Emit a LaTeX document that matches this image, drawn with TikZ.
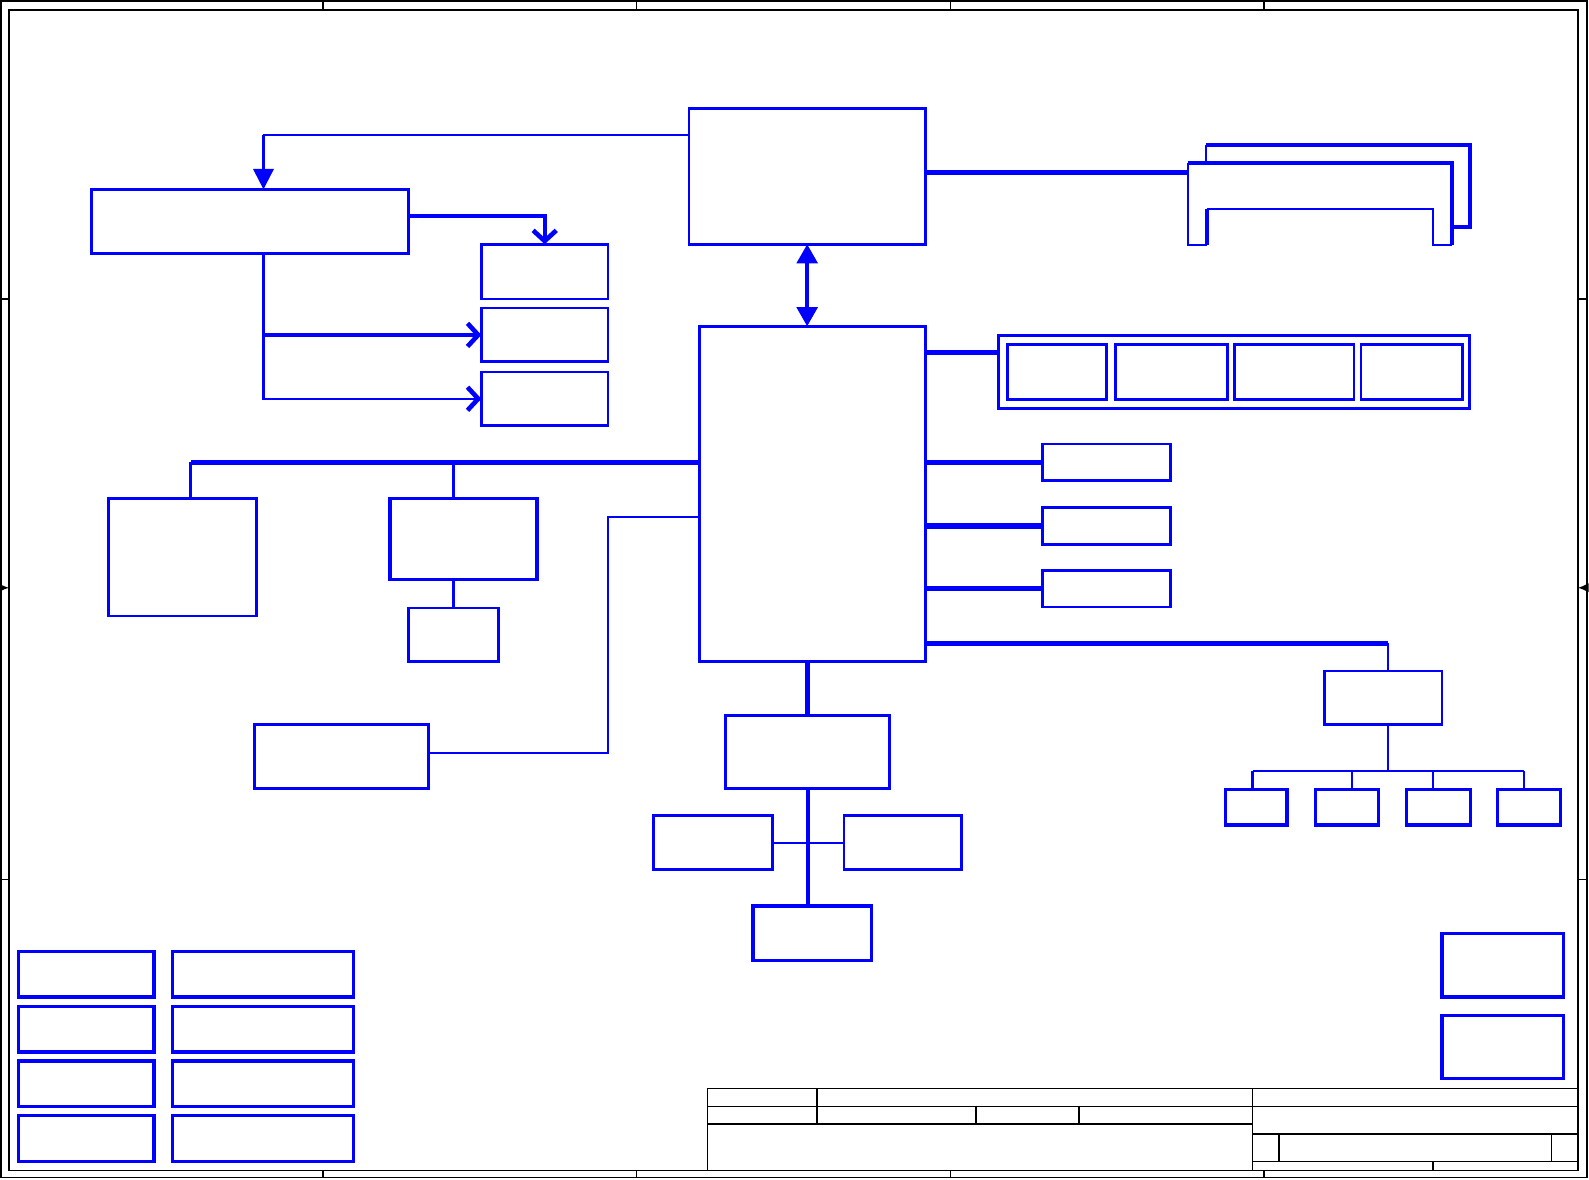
\documentclass[tikz,border=0pt]{standalone}
\usepackage{tikz}
\usetikzlibrary{arrows.meta,positioning,fit,calc}
\definecolor{wire}{RGB}{0,0,255}

\begin{document}
\begin{tikzpicture}[
  x=0.01cm, y=-0.01cm,
  blk/.style={draw=wire, line width=0.75pt, inner sep=0pt, outer sep=0pt},
  hblk/.style={blk, line width=0.95pt},
  link/.style={draw=wire, line width=0.6pt},
  wide/.style={draw=wire, line width=1.1pt},
  bus/.style={draw=wire, line width=1.45pt},
  border/.style={draw=black, line width=0.45pt},
  barb/.style={-{Straight Barb[length=3pt,width=6.5pt,line width=1.3pt]}},
  fillhead/.style={-{Triangle[length=5.8pt,width=5.6pt]}},
  twin/.style={{Triangle[length=5.4pt,width=5.8pt]}-{Triangle[length=5.4pt,width=5.8pt]}},
]
  \useasboundingbox (0,0) rectangle (1568,1164);

  % sheet frame
  \draw[border] (1,1) rectangle (1566,1162);
  \draw[border] (9,10) rectangle (1557,1155);
  \foreach \x in {319,628,938,1247} {
    \draw[border] (\x,1) -- (\x,10);
    \draw[border] (\x,1155) -- (\x,1162);
  }
  \foreach \y in {295,868} {
    \draw[border] (1,\y) -- (9,\y);
    \draw[border] (1557,\y) -- (1566,\y);
  }
  \draw[border, -{Latex[length=3pt,width=2.6pt]}] (1,580) -- (9,580);
  \draw[border, -{Latex[length=3pt,width=2.6pt]}] (1566,580) -- (1557,580);

  % title block
  \draw[border] (698,1074) -- (1557,1074);
  \draw[border] (698,1074) -- (698,1155);
  \draw[border] (698,1092) -- (1557,1092);
  \draw[border] (698,1109) -- (1236,1109);
  \draw[border] (1236,1119) -- (1557,1119);
  \draw[border] (1236,1146) -- (1557,1146);
  \draw[border] (806,1074) -- (806,1109);
  \draw[border] (963,1091) -- (963,1109);
  \draw[border] (1065,1091) -- (1065,1109);
  \draw[border] (1236,1074) -- (1236,1155);
  \draw[border] (1262,1119) -- (1262,1146);
  \draw[border] (1531,1119) -- (1531,1146);
  \draw[border] (1414,1146) -- (1414,1155);

  % blocks
  \node[blk, fit={(680,107) (913,241)}] (cpu) {};
  \node[blk, fit={(690,322) (913,653)}] (pch) {};
  \node[blk, fit={(90,187) (403,250)}] (clk) {};
  \node[blk, fit={(475,241) (600,295)}] (bufa) {};
  \node[blk, fit={(475,304) (600,357)}] (bufb) {};
  \node[blk, fit={(475,367) (600,420)}] (bufc) {};

  \node[blk, fit={(985,331) (1450,403)}] (pcie) {};
  \foreach \a/\b [count=\i] in {994/1092,1101/1211,1218/1336,1343/1443}
    \node[blk, fit={(\a,340) (\b,394)}] (slot\i) {};
  \foreach \y/\n in {438/sata,501/lan,563/audio}
    \node[blk, fit={(1029,\y) (1155,\y+36)}] (\n) {};

  \node[blk, fit={(1307,662) (1423,715)}] (hub) {};
  \foreach \a/\b [count=\i] in {1209/1270,1298/1360,1388/1451,1478/1540}
    \node[hblk, fit={(\a,779) (\b,814)}] (port\i) {};

  \node[blk, fit={(107,492) (253,608)}] (crt) {};
  \node[hblk, fit={(385,492) (530,572)}] (lvds) {};
  \node[blk, fit={(403,600) (492,653)}] (panel) {};
  \node[hblk, fit={(251,715) (423,778)}] (bios) {};

  \node[blk, fit={(716,706) (878,778)}] (ec) {};
  \node[hblk, fit={(645,805) (762,858)}] (kb) {};
  \node[blk, fit={(833,805) (949,858)}] (tp) {};
  \node[hblk, fit={(743,894) (860,948)}] (kbc) {};

  \foreach \y [count=\i] in {939,993,1047,1101} {
    \node[hblk, fit={(18,\y) (152,\y+45)}] (pwra\i) {};
    \node[hblk, fit={(170,\y) (349,\y+45)}] (pwrb\i) {};
  }
  \node[hblk, fit={(1423,921) (1543,984)}] (misca) {};
  \node[hblk, fit={(1423,1002) (1543,1064)}] (miscb) {};

  % clock branch
  \coordinate (ckturn) at (260,133);
  \draw[link] (cpu.west |- ckturn) -- (ckturn);
  \draw[wide, fillhead] (ckturn) -- (clk.north -| ckturn);
  \draw[wide, barb] (clk.east |- 0,213) -| (bufa.north);
  \draw[link, barb] (clk.south -| ckturn) |- (bufc.west);
  \draw[wide, barb] (ckturn |- bufb.west) -- (bufb.west);

  % cpu to pch
  \draw[wide, twin] (cpu.south) -- (cpu.south |- pch.north);

  % memory slots
  \coordinate (dimm) at (1172,170);
  \draw[bus] (cpu.east |- dimm) -- (dimm);
  \draw[wide] (1190,143) -- (1451,143) -- (1451,224) -- (1433,224);
  \draw[link] (1190,143) -- (1190,161);
  \draw[wide] (1172,161) -- (1433,161) -- (1433,242);
  \draw[link] (1172,161) -- (1172,242) -- (1191,242);
  \draw[wide] (1191,242) -- (1191,206);
  \draw[link] (1191,206) -- (1414,206) -- (1414,242) -- (1433,242);

  % right side of pch
  \draw[bus] (pch.east |- 0,348) -- (pcie.west |- 0,348);
  \foreach \n in {sata,lan,audio}
    \draw[bus] (pch.east |- \n.west) -- (\n.west);
  \coordinate (hubtap) at (1370,635);
  \draw[bus] (pch.east |- hubtap) -- (hubtap);
  \draw[link] (hubtap) -- (hubtap |- hub.north);
  \draw[link] (hubtap |- hub.south) -- (1370,761);
  \draw[link] (1236,761) -- (1504,761);
  \foreach \t [count=\i] in {1236,1334,1414,1504}
    \draw[link] (\t,761) -- (port\i.north -| \t,0);

  % left side of pch
  \coordinate (lbus) at (188,456);
  \draw[bus] (pch.west |- lbus) -- (lbus);
  \draw[wide] (lbus) -- (lbus |- crt.north);
  \draw[link] (panel.north |- lbus) -- (panel.north |- lvds.north);
  \draw[link] (lvds.south -| panel.north) -- (panel.north);
  \draw[link] (pch.west |- 0,510) -| (600,743) -- (bios.east |- 0,743);

  % below pch
  \draw[bus] (pch.south -| ec.north) -- (ec.north);
  \draw[wide] (ec.south) -- (ec.south |- kbc.north);
  \draw[link] (kb.east) -- (tp.west);
\end{tikzpicture}
\end{document}
